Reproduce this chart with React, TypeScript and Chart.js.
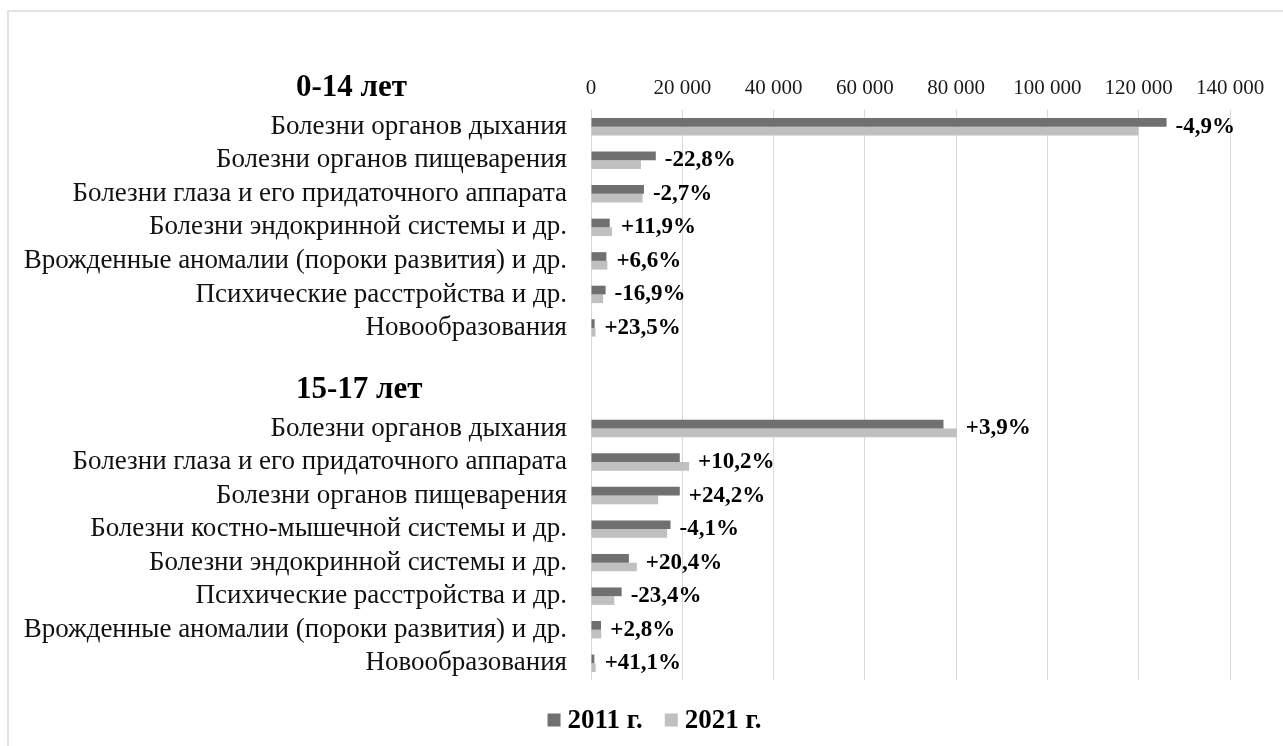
import React, { useEffect, useRef } from 'react';
import { Chart, registerables } from 'chart.js';

Chart.register(...registerables);

const categories = [
  'Болезни органов дыхания',
  'Болезни органов пищеварения',
  'Болезни глаза и его придаточного аппарата',
  'Болезни эндокринной системы и др.',
  'Врожденные аномалии (пороки развития) и др.',
  'Психические расстройства и др.',
  'Новообразования',
  '',
  '',
  'Болезни органов дыхания',
  'Болезни глаза и его придаточного аппарата',
  'Болезни органов пищеварения',
  'Болезни костно-мышечной системы и др.',
  'Болезни эндокринной системы и др.',
  'Психические расстройства и др.',
  'Врожденные аномалии (пороки развития) и др.',
  'Новообразования',
];

const values2011 = [126100, 14200, 11600, 4100, 3370, 3200, 800, null, null, 77230, 19450, 19450, 17420, 8300, 6710, 2190, 730];
const values2021 = [119900, 10960, 11290, 4590, 3590, 2660, 990, null, null, 80150, 21490, 14710, 16680, 10050, 5100, 2250, 1030];

const changeLabels = ['-4,9%', '-22,8%', '-2,7%', '+11,9%', '+6,6%', '-16,9%', '+23,5%', '', '', '+3,9%', '+10,2%', '+24,2%', '-4,1%', '+20,4%', '-23,4%', '+2,8%', '+41,1%'];

const groupHeaders = ['0-14 лет', '15-17 лет'];
const groupHeaderRows = [-1, 8];

const seriesNames = ['2011 г.', '2021 г.'];
const seriesColors = ['#707070', '#c0c0c0'];
const xTicksMax = 140000;
const xTicksStep = 20000;

const FONT = "'Liberation Serif', 'Times New Roman', serif";

const overlayPlugin = {
  id: 'overlayTexts',
  afterDraw(chart: any) {
    const ctx = chart.ctx;
    const xs = chart.scales.x;
    const ys = chart.scales.y;
    const rowH = ys.getPixelForValue(1) - ys.getPixelForValue(0);
    ctx.save();
    // change labels
    ctx.font = `bold 23px ${FONT}`;
    ctx.fillStyle = '#000';
    ctx.textBaseline = 'middle';
    ctx.textAlign = 'left';
    changeLabels.forEach((lab, i) => {
      if (!lab) return;
      const a = values2011[i] ?? 0;
      const b = values2021[i] ?? 0;
      const xp = xs.getPixelForValue(Math.max(a, b)) + 9;
      const yp = ys.getPixelForValue(i);
      ctx.fillText(lab, xp, yp);
    });
    // group headers
    ctx.font = `bold 31px ${FONT}`;
    groupHeaders.forEach((h, k) => {
      const r = groupHeaderRows[k];
      const yp = ys.getPixelForValue(0) + r * rowH - 5;
      ctx.fillText(h, 296, yp);
    });
    // legend
    ctx.font = `bold 27px ${FONT}`;
    const box = 13;
    const gapBoxText = 7;
    const gapItems = 22;
    const widths = seriesNames.map((n) => ctx.measureText(n).width);
    const total = widths.reduce((s, w) => s + box + gapBoxText + w, 0) + gapItems * (seriesNames.length - 1);
    let lx = chart.width / 2 + 13 - total / 2;
    const ly = chart.chartArea.bottom + 40;
    seriesNames.forEach((n, k) => {
      ctx.fillStyle = seriesColors[k];
      ctx.fillRect(lx, ly - box / 2, box, box);
      ctx.fillStyle = '#000';
      ctx.fillText(n, lx + box + gapBoxText, ly + 1);
      lx += box + gapBoxText + widths[k] + gapItems;
    });
    ctx.restore();
  },
};

export default function App() {
  const ref = useRef<HTMLCanvasElement | null>(null);

  useEffect(() => {
    if (!ref.current) return;
    const chart = new Chart(ref.current, {
      type: 'bar',
      data: {
        labels: categories,
        datasets: [
          {
            label: seriesNames[0],
            data: values2011 as any,
            backgroundColor: seriesColors[0],
            barPercentage: 1,
            categoryPercentage: 0.52,
          },
          {
            label: seriesNames[1],
            data: values2021 as any,
            backgroundColor: seriesColors[1],
            barPercentage: 1,
            categoryPercentage: 0.52,
          },
        ],
      },
      options: {
        indexAxis: 'y',
        animation: false,
        responsive: true,
        maintainAspectRatio: false,
        layout: { padding: { left: 0, right: 53, top: 0, bottom: 66 } },
        plugins: {
          tooltip: { enabled: false },
          legend: { display: false },
        },
        scales: {
          x: {
            position: 'top',
            min: 0,
            max: xTicksMax,
            ticks: {
              stepSize: xTicksStep,
              padding: 9,
              color: '#1a1a1a',
              font: { family: FONT, size: 21 },
              callback: (v: any) => String(v).replace(/\B(?=(\d{3})+(?!\d))/g, ' '),
            },
            grid: { color: '#d9d9d9', drawTicks: false },
            border: { display: false },
            afterFit: (s: any) => { s.height = 110; },
          },
          y: {
            ticks: {
              padding: 24,
              color: '#111',
              autoSkip: false,
              font: { family: FONT, size: 27 },
            },
            grid: { display: false, drawTicks: false },
            border: { display: false },
            afterFit: (s: any) => { s.width = 591; },
          },
        },
      },
      plugins: [overlayPlugin],
    });
    return () => chart.destroy();
  }, []);

  return (
    <div style={{ position: 'fixed', left: 0, top: 0, width: 1283, height: 746, background: '#fff', overflow: 'hidden' }}>
      <div style={{ position: 'absolute', left: 7, top: 10, width: 1400, height: 900, borderTop: '2px solid #e3e3e3', borderLeft: '2px solid #e3e3e3' }} />
      <div style={{ position: 'absolute', left: 0, top: 0, width: 1283, height: 746 }}>
        <canvas ref={ref} />
      </div>
    </div>
  );
}
